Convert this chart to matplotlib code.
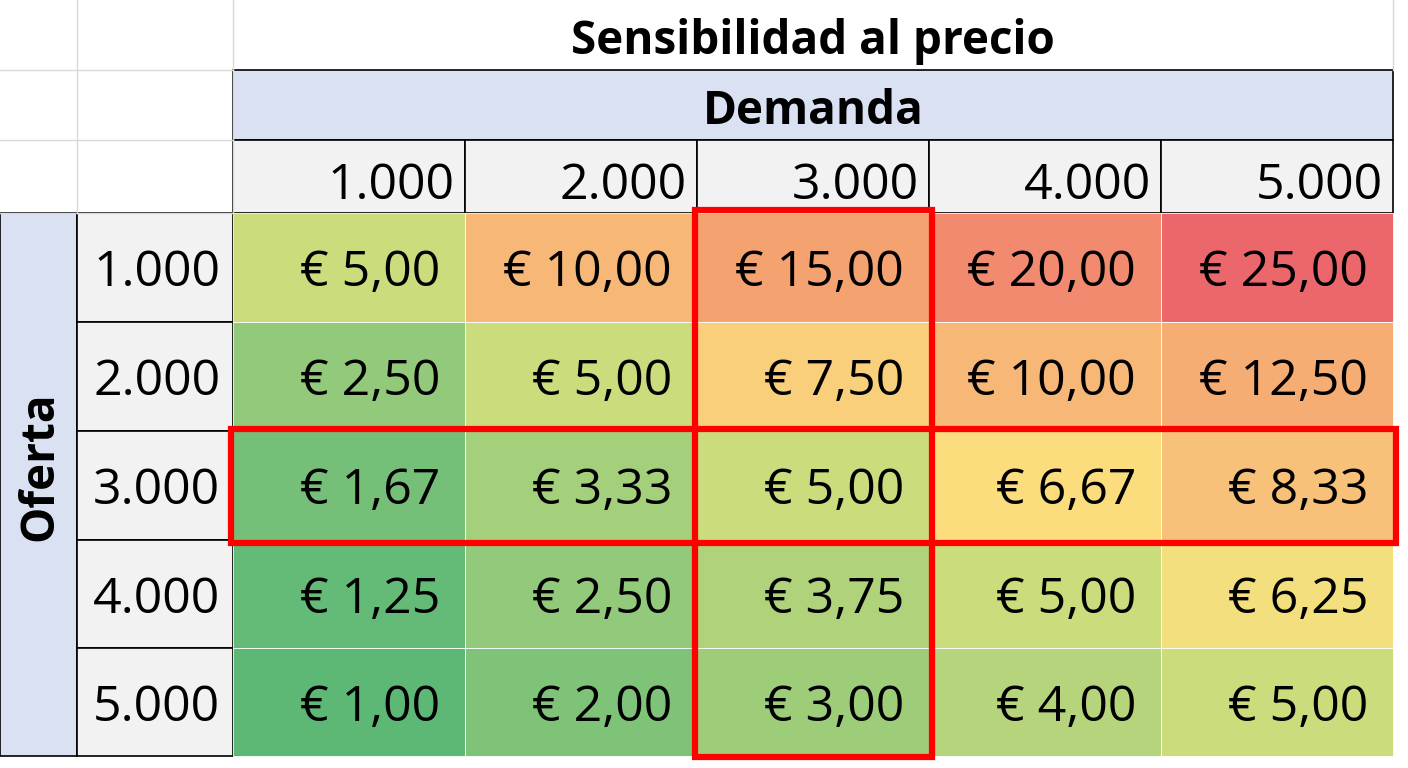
import matplotlib
matplotlib.use("Agg")
import matplotlib.pyplot as plt
import numpy as np
from matplotlib.colors import LinearSegmentedColormap, Normalize
from matplotlib.patches import Rectangle

title = "Sensibilidad al precio"
col_title = "Demanda"
row_title = "Oferta"
demanda = ["1.000", "2.000", "3.000", "4.000", "5.000"]
oferta = ["1.000", "2.000", "3.000", "4.000", "5.000"]
values = [
    [5.00, 10.00, 15.00, 20.00, 25.00],
    [2.50, 5.00, 7.50, 10.00, 12.50],
    [1.67, 3.33, 5.00, 6.67, 8.33],
    [1.25, 2.50, 3.75, 5.00, 6.25],
    [1.00, 2.00, 3.00, 4.00, 5.00],
]

W, H = 1408, 768
fig = plt.figure(figsize=(W/100, H/100), dpi=100)
ax = fig.add_axes([0, 0, 1, 1])
ax.set_xlim(0, W); ax.set_ylim(H, 0); ax.axis("off")
FONT = "Open Sans"

stops = [(1.0, "#5DB876"), (2.5, "#93C97A"), (5.0, "#CCDC7C"), (6.5, "#FBDF7E"),
         (8.5, "#F8BE79"), (15.0, "#F5A271"), (20.0, "#F18A6F"), (25.0, "#EC676C")]
vmin, vmax = 1.0, 25.0
cmap = LinearSegmentedColormap.from_list(
    "ryg", [((v - vmin) / (vmax - vmin), c) for v, c in stops])
norm = Normalize(vmin, vmax)

xs = [233, 465, 697, 929, 1161, 1393]
ys = [213, 322, 431, 540, 648, 756]
grid = "#D9D9D9"
for x in [77, 233]:
    ax.plot([x, x], [0, 213], color=grid, lw=1)
for y in [70, 140]:
    ax.plot([0, 233], [y, y], color=grid, lw=1)
ax.plot([0, 233], [213, 213], color=grid, lw=1)
ax.plot([1393, 1393], [0, 70], color=grid, lw=1)

ax.text(813, 36, title, ha="center", va="center_baseline", fontsize=33, fontweight="bold", family=FONT)
ax.add_patch(Rectangle((233, 70), 1160, 70, facecolor="#D9E1F2", edgecolor="black", lw=1.2))
ax.text(813, 106, col_title, ha="center", va="center_baseline", fontsize=33, fontweight="bold", family=FONT)
for j, lab in enumerate(demanda):
    ax.add_patch(Rectangle((xs[j], 140), xs[j+1]-xs[j], 73, facecolor="#F2F2F2", edgecolor="black", lw=1.2))
    ax.text(xs[j+1]-10, 180, lab, ha="right", va="center_baseline", fontsize=36, family=FONT)
ax.add_patch(Rectangle((0, 213), 77, 543, facecolor="#D9E1F2", edgecolor="black", lw=1.2))
ax.text(40, 466, row_title, ha="center", va="center", rotation=90, fontsize=33, fontweight="bold", family=FONT)
for i, lab in enumerate(oferta):
    ax.add_patch(Rectangle((77, ys[i]), 156, ys[i+1]-ys[i], facecolor="#F2F2F2", edgecolor="black", lw=1.2))
    ax.text(93, (ys[i]+ys[i+1])/2, lab, ha="left", va="center_baseline", fontsize=36, family=FONT)

for i in range(5):
    for j in range(5):
        v = values[i][j]
        ax.add_patch(Rectangle((xs[j], ys[i]), xs[j+1]-xs[j], ys[i+1]-ys[i],
                               facecolor=cmap(norm(v)), edgecolor="white", lw=0.6))
        ax.text(xs[j+1]-25, (ys[i]+ys[i+1])/2, "€ " + f"{v:.2f}".replace(".", ","),
                ha="right", va="center_baseline", fontsize=36, family=FONT)

ax.add_patch(Rectangle((695, 210), 237, 547, fill=False, edgecolor="#FF0000", lw=4.5))
ax.add_patch(Rectangle((231, 429), 1165, 114, fill=False, edgecolor="#FF0000", lw=4.5))

fig.savefig("out.png", dpi=100)
